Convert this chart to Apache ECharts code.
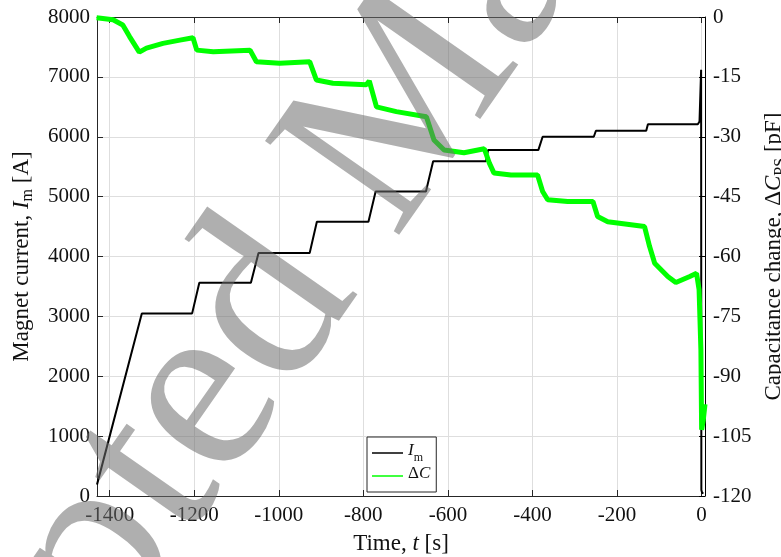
<!DOCTYPE html>
<html><head><meta charset="utf-8">
<script src="https://cdn.jsdelivr.net/npm/echarts@6/dist/echarts.min.js"></script>
<style>html,body{margin:0;padding:0;background:#fff;overflow:hidden}#c{width:781px;height:557px}</style>
</head><body><div id="c"></div>
<script>
// ---- data ----
const timeTicks = [-1400, -1200, -1000, -800, -600, -400, -200, 0];
const imTicks = [0, 1000, 2000, 3000, 4000, 5000, 6000, 7000, 8000];
const dcTicks = [-120, -105, -90, -75, -60, -45, -30, -15, 0];

// Magnet current I_m [A]
const imTime   = [-1430, -1426, -1324, -1205, -1188, -1066, -1048, -927, -910, -788, -771, -652, -635, -510, -505, -386, -376, -255, -250, -131, -127, -9, -5, -2, -1.2, -0.6, 1, 4];
const imValues = [190, 190, 3050, 3050, 3560, 3560, 4060, 4060, 4580, 4580, 5085, 5085, 5590, 5590, 5780, 5780, 6000, 6000, 6100, 6100, 6210, 6210, 6255, 6270, 7120, 100, 60, 40];

// Capacitance change dC [pF]
const dcTime   = [-1431, -1392, -1369, -1353, -1330, -1313, -1274, -1234, -1203, -1194, -1155, -1068, -1053, -998, -927, -911, -872, -793, -786, -769, -722, -651, -633, -609, -562, -514, -502, -491, -451, -388, -376, -364, -317, -257, -246, -222, -135, -123, -111, -80, -61, -28, -12, -6, -1.7, 0, 4, 8];
const dcValues = [-0.2, -0.7, -2.0, -4.9, -8.8, -7.8, -6.6, -5.8, -5.2, -8.3, -8.7, -8.3, -11.2, -11.6, -11.2, -15.8, -16.6, -17.0, -16.0, -22.5, -23.7, -25.0, -30.8, -33.3, -34.0, -33.0, -36.6, -39.1, -39.6, -39.6, -43.7, -45.8, -46.2, -46.2, -50.0, -51.3, -52.5, -57.5, -61.7, -65.0, -66.5, -65.0, -64.2, -68.3, -83.4, -103.4, -100.9, -97];

const watermarkText = 'Accepted Manuscript';

// ---- chart ----
const FF = '"Liberation Serif", "Times New Roman", serif';
const TXT = '#111';
const AX = '#262626';
const GRIDC = '#dedede';
function mkRich(fs, lh, sfs) {
  const b = {fontFamily: FF, fontSize: fs, color: TXT, lineHeight: lh, verticalAlign: 'top'};
  return {
    n: Object.assign({}, b),
    i: Object.assign({}, b, {fontStyle: 'italic'}),
    s: Object.assign({}, b, {fontSize: sfs, lineHeight: 8, verticalAlign: 'bottom'})
  };
}
const nameRich = mkRich(23, 26, 16);
const legRich = mkRich(17, 22, 12);

const chart = echarts.init(document.getElementById('c'), null, {renderer: 'canvas'});
const WS = 250;
const option = {
  animation: false,
  backgroundColor: '#fff',
  grid: {left: 97, right: 76, top: 17, bottom: 61, containLabel: false, outerBoundsMode: 'none'},
  xAxis: [{
    type: 'value', min: -1430, max: 8, position: 'bottom',
    axisLine: {show: true, onZero: false, lineStyle: {color: AX, width: 1}},
    axisTick: {show: true, inside: true, length: 6, customValues: timeTicks, lineStyle: {color: AX}},
    axisLabel: {customValues: timeTicks, margin: 9, fontFamily: FF, fontSize: 21, color: TXT, formatter: v => String(v)},
    splitLine: {show: true, lineStyle: {color: GRIDC, width: 1}},
    name: '{n|Time, }{i|t}{n| [s]}', nameLocation: 'middle', nameGap: 36,
    nameTextStyle: {rich: nameRich}
  }, {
    type: 'value', min: -1430, max: 8, position: 'top',
    axisLine: {show: true, onZero: false, lineStyle: {color: AX, width: 1}},
    axisTick: {show: true, inside: true, length: 6, customValues: timeTicks, lineStyle: {color: AX}},
    axisLabel: {show: false},
    splitLine: {show: false}
  }],
  yAxis: [{
    type: 'value', min: 0, max: 8000, interval: 1000, position: 'left',
    axisLine: {show: true, onZero: false, lineStyle: {color: AX, width: 1}},
    axisTick: {show: true, inside: true, length: 6, lineStyle: {color: AX}},
    axisLabel: {margin: 7, fontFamily: FF, fontSize: 21, color: TXT, formatter: v => String(v)},
    splitLine: {show: true, lineStyle: {color: GRIDC, width: 1}},
    name: '{n|Magnet current, }{i|I}{s|m}{n| [A]}', nameLocation: 'middle', nameGap: 61,
    nameTextStyle: {rich: nameRich}
  }, {
    type: 'value', min: -120, max: 0, interval: 15, position: 'right',
    axisLine: {show: true, onZero: false, lineStyle: {color: '#000', width: 1}},
    axisTick: {show: true, inside: true, length: 6, lineStyle: {color: '#000'}},
    axisLabel: {margin: 8, fontFamily: FF, fontSize: 21, color: TXT, formatter: v => String(v)},
    splitLine: {show: false},
    name: '{n|Capacitance change, Δ}{i|C}{s|PS}{n| [pF]}', nameLocation: 'middle', nameGap: 52,
    nameTextStyle: {rich: nameRich}
  }],
  legend: {
    orient: 'vertical', left: 367, top: 437,
    backgroundColor: '#fff', borderColor: AX, borderWidth: 1,
    padding: [5, 6, 10, 5], itemGap: 1, itemWidth: 31, itemHeight: 1.5,
    data: [
      {name: 'Im', icon: 'rect'},
      {name: 'dC', icon: 'rect'}
    ],
    formatter: name => name === 'Im' ? '{i|I}{s|m}' : '{n|Δ}{i|C}',
    textStyle: {rich: legRich}
  },
  series: [{
    name: 'Im', type: 'line', xAxisIndex: 0, yAxisIndex: 0,
    data: imTime.map((t, k) => [t, imValues[k]]),
    showSymbol: false, symbol: 'none',
    lineStyle: {color: '#000', width: 2},
    itemStyle: {color: '#000'}, z: 2
  }, {
    name: 'dC', type: 'line', xAxisIndex: 0, yAxisIndex: 1,
    data: dcTime.map((t, k) => [t, dcValues[k]]),
    showSymbol: false, symbol: 'none',
    lineStyle: {color: '#00ff00', width: 5},
    itemStyle: {color: '#00ff00'}, z: 3
  }],
  graphic: [{
    type: 'text', silent: true, z: 100,
    x: 405, y: 112, rotation: 55 * Math.PI / 180,
    style: {
      text: watermarkText, x: -4.47 * WS, y: 0,
      font: WS + 'px "Liberation Serif"',
      fill: 'rgba(110,110,110,0.55)',
      align: 'left', verticalAlign: 'middle', textAlign: 'left', textVerticalAlign: 'middle'
    }
  }]
};
chart.setOption(option);
</script></body></html>
